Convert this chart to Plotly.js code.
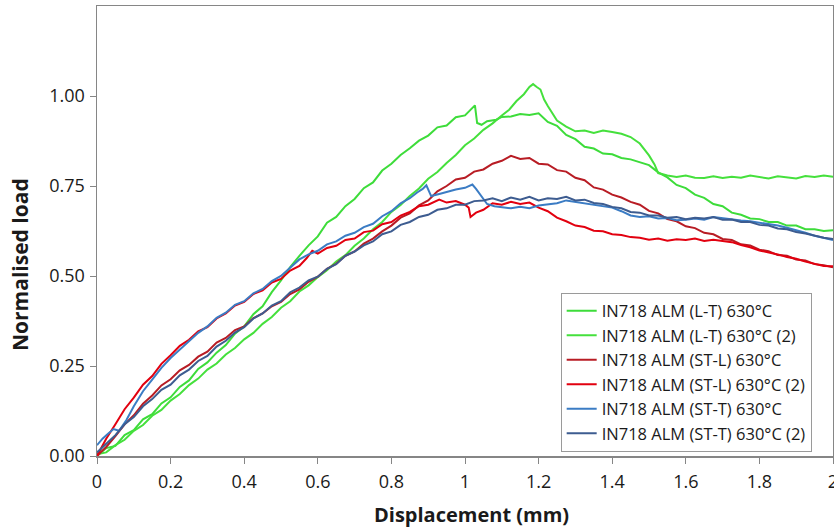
<!DOCTYPE html>
<html>
<head>
<meta charset="utf-8">
<script src="https://cdn.plot.ly/plotly-3.0.1.min.js"></script>
<style>
  html, body { margin: 0; padding: 0; background: #fff; }
  #chart { width: 834px; height: 530px; }
</style>
</head>
<body>
<div id="chart"></div>
<script>
// Series names as shown in the legend
const seriesNames = [
  "IN718 ALM (L-T) 630°C",
  "IN718 ALM (L-T) 630°C (2)",
  "IN718 ALM (ST-L) 630°C",
  "IN718 ALM (ST-L) 630°C (2)",
  "IN718 ALM (ST-T) 630°C",
  "IN718 ALM (ST-T) 630°C (2)"
];

// [displacement (mm), normalised load] pairs for each test
const ltSpec1 = [[0,0.0],[0.025,0.022],[0.05,0.028],[0.075,0.058],[0.1,0.072],[0.125,0.102],[0.15,0.116],[0.175,0.146],[0.2,0.163],[0.225,0.192],[0.25,0.21],[0.275,0.242],[0.3,0.26],[0.325,0.287],[0.35,0.308],[0.375,0.34],[0.4,0.36],[0.425,0.394],[0.45,0.416],[0.475,0.455],[0.5,0.488],[0.525,0.525],[0.55,0.556],[0.575,0.585],[0.6,0.61],[0.625,0.648],[0.65,0.664],[0.675,0.694],[0.7,0.714],[0.725,0.744],[0.75,0.76],[0.775,0.793],[0.8,0.812],[0.825,0.836],[0.85,0.855],[0.875,0.876],[0.9,0.89],[0.925,0.913],[0.95,0.918],[0.975,0.941],[1.0,0.946],[1.015,0.961],[1.027,0.974],[1.033,0.925],[1.045,0.92],[1.06,0.93],[1.085,0.934],[1.1,0.942],[1.125,0.943],[1.15,0.95],[1.175,0.947],[1.2,0.952],[1.225,0.928],[1.25,0.917],[1.275,0.892],[1.3,0.88],[1.325,0.859],[1.35,0.854],[1.375,0.84],[1.4,0.838],[1.425,0.828],[1.45,0.824],[1.475,0.815],[1.5,0.808],[1.525,0.788],[1.55,0.774],[1.575,0.753],[1.6,0.744],[1.625,0.726],[1.65,0.717],[1.675,0.7],[1.7,0.694],[1.725,0.676],[1.75,0.67],[1.775,0.66],[1.8,0.658],[1.825,0.65],[1.85,0.65],[1.875,0.64],[1.9,0.64],[1.925,0.63],[1.95,0.63],[1.975,0.625],[2.0,0.627]];

const ltSpec2 = [[0,0.005],[0.025,0.01],[0.05,0.03],[0.075,0.045],[0.1,0.07],[0.125,0.086],[0.15,0.112],[0.175,0.128],[0.2,0.154],[0.225,0.172],[0.25,0.197],[0.275,0.215],[0.3,0.24],[0.325,0.257],[0.35,0.282],[0.375,0.3],[0.4,0.324],[0.425,0.342],[0.45,0.367],[0.475,0.386],[0.5,0.412],[0.525,0.43],[0.55,0.457],[0.575,0.474],[0.6,0.497],[0.625,0.516],[0.65,0.54],[0.675,0.558],[0.7,0.584],[0.725,0.604],[0.75,0.63],[0.775,0.65],[0.8,0.678],[0.825,0.697],[0.85,0.722],[0.875,0.743],[0.9,0.77],[0.925,0.789],[0.95,0.814],[0.975,0.836],[1.0,0.863],[1.025,0.882],[1.05,0.906],[1.075,0.924],[1.1,0.946],[1.12,0.962],[1.14,0.986],[1.16,1.005],[1.175,1.025],[1.185,1.033],[1.195,1.025],[1.205,1.018],[1.215,0.99],[1.225,0.972],[1.25,0.932],[1.275,0.915],[1.3,0.902],[1.325,0.904],[1.35,0.897],[1.375,0.904],[1.4,0.9],[1.425,0.895],[1.45,0.886],[1.475,0.868],[1.5,0.835],[1.515,0.81],[1.525,0.786],[1.55,0.779],[1.575,0.775],[1.6,0.779],[1.625,0.773],[1.65,0.772],[1.675,0.777],[1.7,0.772],[1.725,0.776],[1.75,0.773],[1.775,0.779],[1.8,0.774],[1.825,0.771],[1.85,0.777],[1.875,0.774],[1.9,0.771],[1.925,0.778],[1.95,0.775],[1.975,0.779],[2.0,0.776]];

const stlSpec1 = [[0,0.0],[0.025,0.025],[0.05,0.055],[0.075,0.088],[0.1,0.113],[0.125,0.145],[0.15,0.168],[0.175,0.196],[0.2,0.213],[0.225,0.238],[0.25,0.253],[0.275,0.276],[0.3,0.29],[0.325,0.315],[0.35,0.328],[0.375,0.35],[0.4,0.36],[0.425,0.383],[0.45,0.396],[0.475,0.416],[0.5,0.428],[0.525,0.45],[0.55,0.463],[0.575,0.484],[0.6,0.498],[0.625,0.52],[0.65,0.534],[0.675,0.556],[0.7,0.568],[0.725,0.59],[0.75,0.604],[0.775,0.624],[0.8,0.64],[0.825,0.662],[0.85,0.674],[0.875,0.696],[0.9,0.71],[0.925,0.735],[0.95,0.75],[0.975,0.768],[1.0,0.773],[1.025,0.79],[1.05,0.796],[1.075,0.812],[1.1,0.82],[1.125,0.834],[1.15,0.825],[1.175,0.828],[1.2,0.812],[1.225,0.81],[1.25,0.794],[1.275,0.79],[1.3,0.773],[1.325,0.766],[1.35,0.746],[1.375,0.74],[1.4,0.726],[1.425,0.718],[1.45,0.706],[1.475,0.698],[1.5,0.681],[1.525,0.674],[1.55,0.658],[1.575,0.652],[1.6,0.638],[1.625,0.633],[1.65,0.62],[1.675,0.616],[1.7,0.603],[1.725,0.6],[1.75,0.588],[1.775,0.585],[1.8,0.573],[1.825,0.569],[1.85,0.558],[1.875,0.556],[1.9,0.546],[1.925,0.543],[1.95,0.533],[1.975,0.53],[2.0,0.524]];

const stlSpec2 = [[0,0.0],[0.025,0.048],[0.05,0.088],[0.075,0.13],[0.1,0.162],[0.125,0.198],[0.15,0.222],[0.175,0.256],[0.2,0.28],[0.225,0.306],[0.25,0.323],[0.275,0.346],[0.3,0.358],[0.325,0.382],[0.35,0.396],[0.375,0.418],[0.4,0.428],[0.425,0.45],[0.45,0.46],[0.475,0.482],[0.5,0.492],[0.525,0.515],[0.55,0.528],[0.57,0.55],[0.585,0.57],[0.6,0.562],[0.625,0.578],[0.65,0.584],[0.675,0.6],[0.7,0.604],[0.725,0.622],[0.75,0.626],[0.775,0.644],[0.8,0.65],[0.825,0.668],[0.85,0.678],[0.875,0.694],[0.9,0.698],[0.93,0.712],[0.95,0.704],[0.975,0.708],[1.0,0.698],[1.01,0.69],[1.015,0.664],[1.03,0.676],[1.05,0.684],[1.075,0.702],[1.1,0.698],[1.125,0.706],[1.15,0.7],[1.175,0.704],[1.2,0.69],[1.225,0.68],[1.25,0.662],[1.275,0.652],[1.3,0.64],[1.325,0.636],[1.35,0.626],[1.375,0.624],[1.4,0.616],[1.425,0.614],[1.45,0.608],[1.475,0.606],[1.5,0.601],[1.525,0.604],[1.55,0.598],[1.575,0.602],[1.6,0.6],[1.625,0.604],[1.65,0.597],[1.675,0.601],[1.7,0.598],[1.725,0.594],[1.75,0.586],[1.775,0.58],[1.8,0.571],[1.825,0.566],[1.85,0.56],[1.875,0.553],[1.9,0.548],[1.925,0.54],[1.95,0.535],[1.975,0.528],[2.0,0.527]];

const sttSpec1 = [[0,0.03],[0.015,0.048],[0.03,0.062],[0.045,0.075],[0.06,0.07],[0.08,0.1],[0.1,0.138],[0.125,0.18],[0.15,0.212],[0.175,0.245],[0.2,0.272],[0.225,0.296],[0.25,0.318],[0.275,0.342],[0.3,0.36],[0.325,0.384],[0.35,0.398],[0.375,0.42],[0.4,0.43],[0.425,0.452],[0.45,0.464],[0.475,0.486],[0.5,0.5],[0.525,0.524],[0.55,0.546],[0.575,0.56],[0.6,0.57],[0.625,0.588],[0.65,0.596],[0.675,0.612],[0.7,0.62],[0.725,0.636],[0.75,0.645],[0.775,0.666],[0.8,0.68],[0.825,0.702],[0.85,0.716],[0.87,0.732],[0.885,0.742],[0.895,0.752],[0.902,0.738],[0.908,0.722],[0.93,0.728],[0.95,0.734],[0.975,0.74],[1.0,0.745],[1.02,0.754],[1.03,0.742],[1.045,0.72],[1.06,0.7],[1.08,0.694],[1.1,0.692],[1.125,0.688],[1.15,0.692],[1.175,0.688],[1.2,0.696],[1.225,0.7],[1.25,0.702],[1.275,0.71],[1.3,0.706],[1.325,0.702],[1.35,0.7],[1.375,0.694],[1.4,0.69],[1.425,0.68],[1.45,0.668],[1.475,0.664],[1.5,0.666],[1.525,0.66],[1.55,0.661],[1.575,0.655],[1.6,0.656],[1.625,0.66],[1.65,0.656],[1.675,0.664],[1.7,0.66],[1.725,0.658],[1.75,0.654],[1.775,0.652],[1.8,0.648],[1.825,0.645],[1.85,0.64],[1.875,0.634],[1.9,0.628],[1.925,0.62],[1.95,0.612],[1.975,0.606],[2.0,0.6]];

const sttSpec2 = [[0,0.01],[0.025,0.035],[0.05,0.058],[0.075,0.088],[0.1,0.108],[0.125,0.138],[0.15,0.158],[0.175,0.184],[0.2,0.198],[0.225,0.224],[0.25,0.24],[0.275,0.264],[0.3,0.278],[0.325,0.304],[0.35,0.32],[0.375,0.343],[0.4,0.358],[0.425,0.382],[0.45,0.396],[0.475,0.418],[0.5,0.43],[0.525,0.455],[0.55,0.468],[0.575,0.488],[0.6,0.498],[0.625,0.52],[0.65,0.533],[0.675,0.556],[0.7,0.568],[0.725,0.585],[0.75,0.596],[0.775,0.616],[0.8,0.624],[0.825,0.642],[0.85,0.65],[0.875,0.664],[0.9,0.67],[0.925,0.684],[0.95,0.688],[0.975,0.698],[1.0,0.698],[1.025,0.708],[1.05,0.71],[1.075,0.716],[1.1,0.708],[1.125,0.718],[1.15,0.712],[1.175,0.72],[1.2,0.71],[1.225,0.716],[1.25,0.714],[1.275,0.72],[1.3,0.71],[1.325,0.712],[1.35,0.703],[1.375,0.7],[1.4,0.692],[1.425,0.688],[1.45,0.678],[1.475,0.676],[1.5,0.668],[1.525,0.668],[1.55,0.662],[1.575,0.664],[1.6,0.658],[1.625,0.662],[1.65,0.66],[1.675,0.664],[1.7,0.656],[1.725,0.657],[1.75,0.65],[1.775,0.65],[1.8,0.642],[1.825,0.64],[1.85,0.632],[1.875,0.63],[1.9,0.622],[1.925,0.618],[1.95,0.612],[1.975,0.606],[2.0,0.603]];

// Axis ticks
const xTickVals = [0, 0.2, 0.4, 0.6, 0.8, 1, 1.2, 1.4, 1.6, 1.8, 2];
const xTickText = ["0", "0.2", "0.4", "0.6", "0.8", "1", "1.2", "1.4", "1.6", "1.8", "2"];
const yTickVals = [0, 0.25, 0.5, 0.75, 1.0];
const yTickText = ["0.00", "0.25", "0.50", "0.75", "1.00"];

const lineColors = ["#3ddc3a", "#45e03c", "#b81c24", "#e2000f", "#3b7cc4", "#3d5c90"];
const allSpecs = [ltSpec1, ltSpec2, stlSpec1, stlSpec2, sttSpec1, sttSpec2];

const traces = seriesNames.map((name, i) => ({
  type: "scatter",
  mode: "lines",
  name: name,
  x: allSpecs[i].map(p => p[0]),
  y: allSpecs[i].map(p => p[1]),
  line: { color: lineColors[i], width: 2 }
}));

const fontFamily = "'Open Sans', 'Liberation Sans', sans-serif";
const textColor = "#1a1a1a";
const axisColor = "#868686";

const layout = {
  width: 834,
  height: 530,
  margin: { l: 97, r: 1, t: 6, b: 74 },
  paper_bgcolor: "#fff",
  plot_bgcolor: "#fff",
  font: { family: fontFamily, color: textColor },
  showlegend: true,
  legend: {
    x: 0.63, y: 0.363, xanchor: "left", yanchor: "top",
    bgcolor: "#fff", bordercolor: "#9a9a9a", borderwidth: 1,
    font: { family: fontFamily, size: 16.5, color: textColor },
    tracegroupgap: 0
  },
  xaxis: {
    range: [0, 2],
    tickvals: xTickVals, ticktext: xTickText,
    ticks: "outside", ticklen: 6, tickcolor: axisColor, tickwidth: 1,
    ticklabelstandoff: 3, ticklabeloverflow: "allow",
    showline: true, linecolor: axisColor, linewidth: 1.5, mirror: true,
    showgrid: false, zeroline: false,
    tickfont: { family: fontFamily, size: 18, color: textColor }
  },
  yaxis: {
    range: [0, 1.25],
    tickvals: yTickVals, ticktext: yTickText,
    ticks: "outside", ticklen: 6, tickcolor: axisColor, tickwidth: 1,
    ticklabelstandoff: 1,
    showline: true, linecolor: axisColor, linewidth: 1.5, mirror: true,
    showgrid: false, zeroline: false,
    tickfont: { family: fontFamily, size: 18, color: textColor }
  },
  annotations: [
    {
      text: "Displacement (mm)", showarrow: false,
      xref: "paper", yref: "paper", x: 0.5095, y: -0.131,
      xanchor: "center", yanchor: "middle",
      font: { family: fontFamily, size: 20, color: textColor, weight: "bold" }
    },
    {
      text: "Normalised load", showarrow: false, textangle: -90,
      xref: "paper", yref: "paper", x: -0.1046, y: 0.4244,
      xanchor: "center", yanchor: "middle",
      font: { family: fontFamily, size: 21, color: textColor, weight: "bold" }
    }
  ]
};

Plotly.newPlot("chart", traces, layout, { displayModeBar: false, staticPlot: true });
</script>
</body>
</html>
